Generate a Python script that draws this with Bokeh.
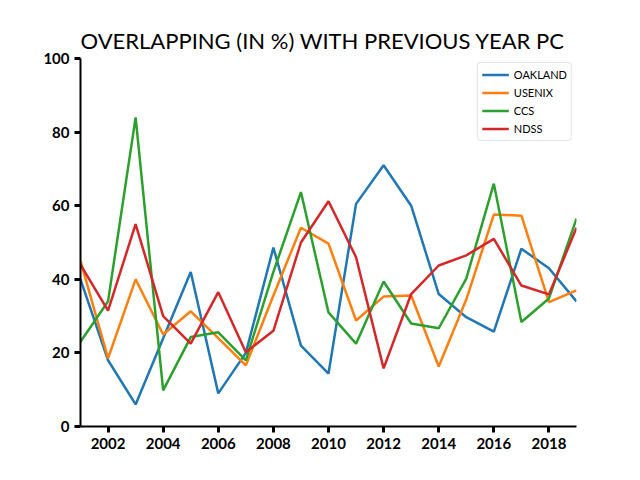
from bokeh.plotting import figure
from bokeh.models import FixedTicker, Legend, LegendItem
from bokeh.embed import file_html
from bokeh.resources import INLINE

years = list(range(2001, 2020))
oakland = [40, 18, 6, 24, 42, 9, 20, 48.6, 22, 14.4, 60.5, 71, 60, 36, 29.7, 25.8, 48.3, 43, 34]
usenix = [45, 18.5, 40, 25, 31.3, 24, 16.6, 35.6, 54, 49.7, 28.8, 35.3, 35.6, 16.3, 34.5, 57.6, 57.3, 33.8, 37]
ccs = [23, 34, 84, 9.8, 24.3, 25.6, 18, 42, 63.7, 31, 22.5, 39.4, 28, 26.7, 40.2, 66, 28.4, 34.8, 56.5]
ndss = [44, 31.5, 55, 30, 22.5, 36.5, 20.2, 26, 50, 61.2, 46, 15.8, 36, 43.75, 46.5, 51, 38.3, 35.9, 54]
names = ["OAKLAND", "USENIX", "CCS", "NDSS"]
colors = ["#1f77b4", "#ff7f0e", "#2ca02c", "#d62728"]
x_ticks = [2002, 2004, 2006, 2008, 2010, 2012, 2014, 2016, 2018]
y_ticks = [0, 20, 40, 60, 80, 100]

FONT = "Lato"

p = figure(width=624, height=464, x_range=(2001, 2019), y_range=(0, 100),
           output_backend="svg", toolbar_location=None,
           min_border_left=80, min_border_right=48, min_border_top=58, min_border_bottom=38)
p.title.text = "OVERLAPPING (IN %) WITH PREVIOUS YEAR PC"
p.title.text_font = FONT
p.title.text_font_size = "22px"
p.title.text_font_style = "normal"
p.title.text_color = "black"
p.title.offset = 0
p.outline_line_color = None
p.xgrid.visible = False
p.ygrid.visible = False

for ax in (p.xaxis[0], p.yaxis[0]):
    ax.axis_line_width = 2
    ax.axis_line_color = "black"
    ax.major_tick_line_width = 3
    ax.major_tick_in = 0
    ax.major_tick_out = 6
    ax.minor_tick_line_color = None
    ax.major_label_text_font = FONT
    ax.major_label_text_font_size = "15px"
    ax.major_label_text_font_style = "bold"
    ax.major_label_text_color = "black"
p.xaxis.ticker = FixedTicker(ticks=x_ticks)
p.yaxis.ticker = FixedTicker(ticks=y_ticks)

items = []
for ys, name, c in zip([oakland, usenix, ccs, ndss], names, colors):
    r = p.line(years, ys, line_color=c, line_width=2.5)
    items.append(LegendItem(label=name, renderers=[r]))

legend = Legend(items=items, location="top_right")
legend.label_text_font = FONT
legend.label_text_font_size = "11px"
legend.label_text_color = "black"
legend.label_height = 15
legend.glyph_width = 27
legend.glyph_height = 15
legend.spacing = 3
legend.padding = 4
legend.margin = 4
legend.border_line_color = "#cccccc"
legend.border_line_width = 1.5
legend.border_radius = 4
p.add_layout(legend)

open("out.html", "w").write(file_html(p, INLINE))
